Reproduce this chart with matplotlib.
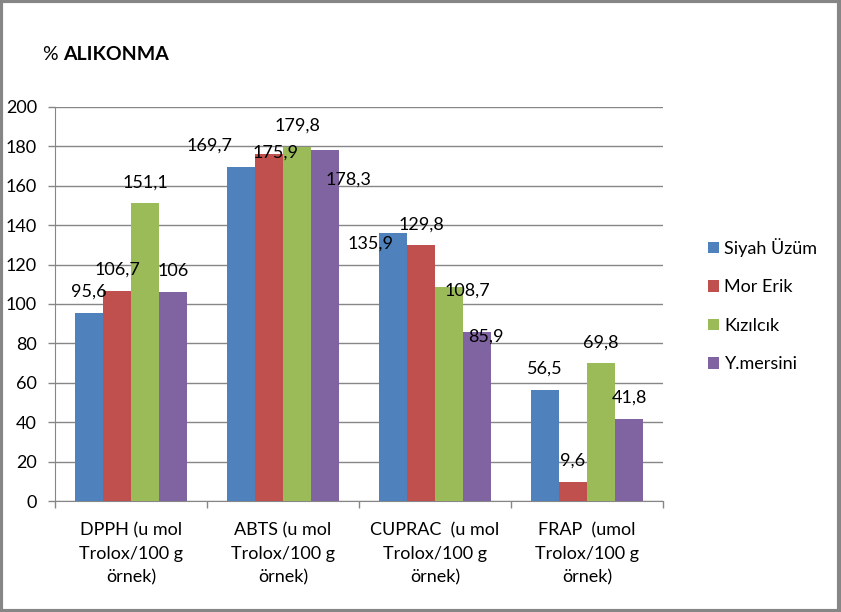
import matplotlib
matplotlib.use("Agg")
import matplotlib.pyplot as plt
import numpy as np
from matplotlib.patches import Rectangle

categories = ["DPPH (u mol\nTrolox/100 g\nörnek)", "ABTS (u mol\nTrolox/100 g\nörnek)",
              "CUPRAC  (u mol\nTrolox/100 g\nörnek)", "FRAP  (umol\nTrolox/100 g\nörnek)"]
series_names = ["Siyah Üzüm", "Mor Erik", "Kızılcık", "Y.mersini"]
siyah_uzum = [95.6, 169.7, 135.9, 56.5]
mor_erik = [106.7, 175.9, 129.8, 9.6]
kizilcik = [151.1, 179.8, 108.7, 69.8]
y_mersini = [106.0, 178.3, 85.9, 41.8]
yticks = [0, 20, 40, 60, 80, 100, 120, 140, 160, 180, 200]

colors = ["#4F81BD", "#C0504D", "#9BBB59", "#8064A2"]
# label nudges (pixels) relative to default Excel position
label_nudges = [
    [(0, 0), (-32, 0), (-23, -31), (0, 0)],
    [(0, 0), (6, -19), (0, 0), (0, 0)],
    [(0, 0), (0, 0), (18, -25), (0, 0)],
    [(0, 0), (24, -51), (9, -26), (0, 0)],
]

plt.rcParams['font.family'] = ['Lato', 'DejaVu Sans']

fig = plt.figure(figsize=(8.41, 6.12), dpi=100)
ax = fig.add_axes([55/841, 1-501/612, (663-55)/841, (501-107)/612])

data = [siyah_uzum, mor_erik, kizilcik, y_mersini]
x = np.arange(len(categories))
bw = 0.184
for i, (name, vals) in enumerate(zip(series_names, data)):
    pos = x + (i - 1.5) * bw
    ax.bar(pos, vals, width=bw, color=colors[i], label=name, zorder=3)
    for j, (p, v) in enumerate(zip(pos, vals)):
        txt = f"{v:g}".replace(".", ",")
        dx, dy = label_nudges[i][j]
        ax.annotate(txt, xy=(p, v), xytext=(dx, 21 + dy), textcoords="offset pixels",
                    ha="center", va="center", fontsize=13, color="black", zorder=4)

ax.set_xlim(-0.5, len(categories) - 0.5)
ax.set_ylim(0, 200)
ax.set_yticks(yticks)
ax.set_yticklabels([str(t) for t in yticks], fontsize=13)
ax.yaxis.grid(True, color="#868686", linewidth=1.0, zorder=0)
ax.set_axisbelow(True)
ax.tick_params(axis="y", length=5, width=1, color="#868686", pad=8)

ax.set_xticks(x)
ax.set_xticklabels(categories, fontsize=13, linespacing=1.6)
ax.set_xticks(np.arange(-0.5, len(categories)), minor=True)
ax.tick_params(axis="x", which="major", length=0, pad=15)
ax.tick_params(axis="x", which="minor", length=5, width=1, color="#868686")

for s in ["top", "right"]:
    ax.spines[s].set_visible(False)
ax.spines["left"].set_color("#868686")
ax.spines["bottom"].set_color("#868686")

fig.text(42/841, 1-55/612, "%", fontsize=14, va="center", ha="left")
fig.text(63/841, 1-55/612, "ALIKONMA", fontsize=14, fontweight="bold", va="center", ha="left")

handles, labels = ax.get_legend_handles_labels()
fig.legend(handles, labels, loc="center left", bbox_to_anchor=(692/841, 1-305/612),
           frameon=False, fontsize=13, handlelength=0.6, handleheight=0.6,
           handletextpad=0.3, labelspacing=1.25)

fig.patches.append(Rectangle((0.0015, 0.002), 0.9965, 0.996, transform=fig.transFigure,
                             fill=False, edgecolor="#868686", linewidth=3))

fig.savefig("out.png", dpi=100)
